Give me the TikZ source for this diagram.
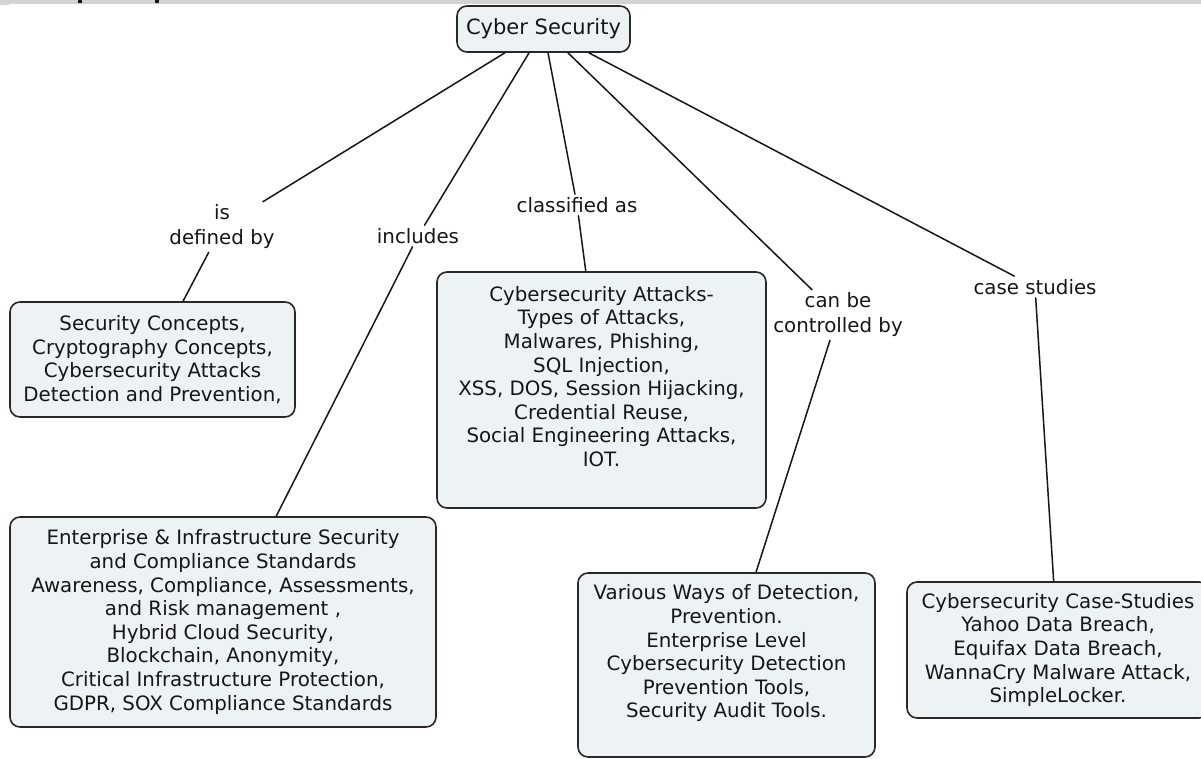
\documentclass[tikz,border=0pt]{standalone}
\usepackage{fontspec}
\setmainfont{DejaVu Sans}

\definecolor{boxfill}{RGB}{237,242,245}
\definecolor{boxline}{RGB}{40,40,40}
\definecolor{inkcol}{RGB}{22,22,22}
\definecolor{stripcol}{RGB}{211,211,211}

% text block of a concept box: width, height, lines
\newcommand{\boxtext}[3]{\parbox[c][#2][c]{#1}{\centering #3}}

\begin{document}
\begin{tikzpicture}[x=1pt, y=-1pt, line join=round, line cap=round,
    concept/.style={draw=boxline, fill=boxfill, line width=1.6pt, rounded corners=10pt,
        inner sep=0pt, text=inkcol, font=\fontsize{19.8}{23.6}\selectfont},
    linkword/.style={inner sep=3pt, align=center, text=inkcol, font=\fontsize{19.8}{25}\selectfont},
    link/.style={draw=inkcol, line width=1.5pt}]
    \useasboundingbox (0,0) rectangle (1201,759);

    % grey strip at the top edge
    \fill[stripcol] (0,0) rectangle (1201,4);
    \fill[stripcol] (0,4) rectangle (9,5);
    \fill[inkcol] (78,0) rectangle (82,3);
    \fill[inkcol] (155,0) rectangle (159,3);

    % root concept
    \node[concept, minimum width=173pt, minimum height=46pt, font=\fontsize{21}{25}\selectfont]
        (cyber) at (543.5,29) {Cyber Security};

    % linking phrases
    \node[linkword] (ldefn) at (222,227) {is\\defined by};
    \node[linkword] (lincl) at (418,236) {includes};
    \node[linkword] (lattacks) at (577,205) {classified as};
    \node[linkword] (lcontrol) at (838,315) {can be\\controlled by};
    \node[linkword] (lcases) at (1035,287) {case studies};

    % concepts
    \node[concept] (defn) at (152.5,359.5) {\boxtext{285pt}{115pt}{%
        Security Concepts,\\ Cryptography Concepts,\\ Cybersecurity Attacks\\ Detection and Prevention,}};
    \node[concept] (incl) at (223,622) {\boxtext{426pt}{210pt}{%
        Enterprise \& Infrastructure Security\\ and Compliance Standards\\
        Awareness, Compliance, Assessments,\\ and Risk management ,\\
        Hybrid Cloud Security,\\ Blockchain, Anonymity,\\
        Critical Infrastructure Protection,\\ GDPR, SOX Compliance Standards}};
    \node[concept] (attacks) at (601.5,390) {\boxtext{329pt}{236pt}{%
        Cybersecurity Attacks-\\ Types of Attacks,\\ Malwares, Phishing,\\ SQL Injection,\\
        XSS, DOS, Session Hijacking,\\ Credential Reuse,\\ Social Engineering Attacks,\\ IOT.\par
        \vspace*{27pt}}};
    \node[concept] (control) at (726.5,665) {\boxtext{297pt}{184pt}{%
        Various Ways of Detection,\\ Prevention.\\ Enterprise Level\\ Cybersecurity Detection\\
        Prevention Tools,\\ Security Audit Tools.\par\vspace*{23pt}}};
    \node[concept] (cases) at (1058,650) {\boxtext{302pt}{136pt}{%
        Cybersecurity Case-Studies\\ Yahoo Data Breach,\\ Equifax Data Breach,\\
        WannaCry Malware Attack,\\ SimpleLocker.}};

    % connectors
    \draw[link] (cyber) -- (ldefn);
    \draw[link] (ldefn) -- (defn);
    \draw[link] (cyber) -- (lincl);
    \draw[link] (lincl) -- (incl);
    \draw[link] (cyber) -- (lattacks);
    \draw[link] (lattacks) -- (attacks);
    \draw[link] (cyber) -- (lcontrol);
    \draw[link] (lcontrol) -- (control);
    \draw[link] (cyber) -- (lcases);
    \draw[link] (lcases) -- (cases);
\end{tikzpicture}
\end{document}
